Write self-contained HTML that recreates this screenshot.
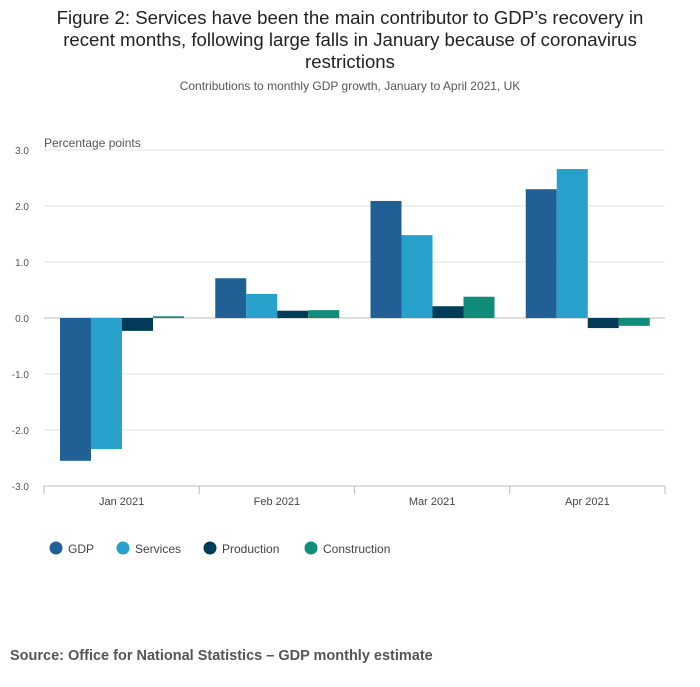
<!DOCTYPE html>
<html><head><meta charset="utf-8"><style>
body{margin:0;background:#fff;width:700px;height:682px;overflow:hidden;font-family:"Liberation Sans",sans-serif}
</style></head><body>
<svg width="700" height="682" font-family="Liberation Sans, sans-serif">
<text x="350" y="24" text-anchor="middle" font-size="18.6" fill="#222">Figure 2: Services have been the main contributor to GDP’s recovery in</text>
<text x="350" y="46" text-anchor="middle" font-size="18.6" fill="#222">recent months, following large falls in January because of coronavirus</text>
<text x="350" y="68" text-anchor="middle" font-size="18.6" fill="#222">restrictions</text>
<text x="350" y="90" text-anchor="middle" font-size="12" fill="#555">Contributions to monthly GDP growth, January to April 2021, UK</text>
<text x="44" y="147" font-size="12" fill="#555">Percentage points</text>
<g id="grid"></g><g id="bars"></g><g id="xaxis"></g>
<g id="legend"></g>
<text x="10" y="660" font-size="14.5" font-weight="bold" fill="#555">Source: Office for National Statistics – GDP monthly estimate</text>
</svg>
<script>
const categories=["Jan 2021","Feb 2021","Mar 2021","Apr 2021"];
const seriesNames=["GDP","Services","Production","Construction"];
const gdp=[-2.55,0.71,2.09,2.30];
const services=[-2.34,0.43,1.48,2.66];
const production=[-0.23,0.13,0.21,-0.18];
const construction=[0.03,0.14,0.38,-0.14];
const yTicks=[3,2,1,0,-1,-2,-3];
const yTickLabels=["3.0","2.0","1.0","0.0","-1.0","-2.0","-3.0"];
const colors=["#206095","#27a0cc","#003c57","#118c7b"];
const NS="http://www.w3.org/2000/svg";
const x0=44,x1=665,yTop=150,yBot=486;
const y=v=>yTop+(3-v)*(yBot-yTop)/6;
const bandW=(x1-x0)/categories.length;
const xBand=i=>x0+i*bandW;
function mk(tag,attrs,parent){const e=document.createElementNS(NS,tag);for(const k in attrs)e.setAttribute(k,attrs[k]);document.getElementById(parent).appendChild(e);return e;}
yTicks.forEach((t,i)=>{
 const l=mk('line',{x1:x0,x2:x1,y1:y(t),y2:y(t),stroke:t===0?'#bbb':'#e0e0e0'},'grid');
 
 
 const tx=mk('text',{x:29,y:y(t)+4,'text-anchor':'end','font-size':10,fill:'#555'},'grid');
 tx.textContent=yTickLabels[i];
 
 
});
const series=[gdp,services,production,construction];
const bw=31;
categories.forEach((c,i)=>{
 series.forEach((s,j)=>{
  const v=s[i];const bx=xBand(i)+16+j*bw;
  const r=mk('rect',{x:bx,y:Math.min(y(v),y(0)),width:bw,height:Math.abs(y(v)-y(0)),fill:colors[j]},'bars');
  
  
 });
 const tk=mk('line',{x1:xBand(i),x2:xBand(i),y1:yBot,y2:yBot+8,stroke:'#bbb'},'xaxis');
 
 
 const t=mk('text',{x:xBand(i)+bandW/2,y:yBot+19,'text-anchor':'middle','font-size':11,fill:'#444'},'xaxis');
 t.textContent=c;
 
 
});
const endTick=mk('line',{x1:x1,x2:x1,y1:yBot,y2:yBot+8,stroke:'#bbb'},'xaxis');


const axis=mk('line',{x1:x0,x2:x1,y1:yBot,y2:yBot,stroke:'#bbb'},'xaxis');


const legX=[56,123,210,311];
seriesNames.forEach((n,j)=>{
 const c=mk('circle',{cx:legX[j],cy:548,r:6.5,fill:colors[j]},'legend');
 
 
 const t=mk('text',{x:legX[j]+12,y:553,'font-size':12,fill:'#444'},'legend');
 t.textContent=n;
 
 
});
</script>
</body></html>
